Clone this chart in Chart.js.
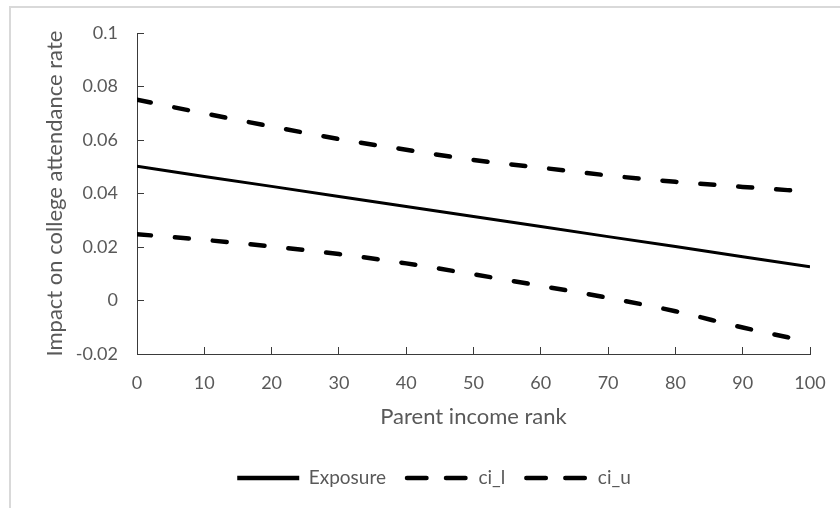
<!DOCTYPE html>
<html>
<head>
<meta charset="utf-8">
<script src="https://cdn.jsdelivr.net/npm/chart.js@4"></script>
<style>
html, body { margin: 0; padding: 0; background: #fff; overflow: hidden; }
#marco { position: absolute; left: 9px; top: 6px; width: 900px; height: 600px;
         border-top: 2px solid #d9d9d9; border-left: 2px solid #d9d9d9; }
#contenedor { position: absolute; left: 0; top: 0; width: 840px; height: 508px; }
</style>
</head>
<body>
<div id="marco"></div>
<div id="contenedor"><canvas id="grafico"></canvas></div>
<script>
// valores
const parentRank = [0, 10, 20, 30, 40, 50, 60, 70, 80, 90, 100];
const exposure = [0.0502, 0.0464, 0.0427, 0.0389, 0.0352, 0.0314, 0.0277, 0.0239, 0.0202, 0.0164, 0.0126];
const ciL = [0.0248, 0.0227, 0.0202, 0.0174, 0.0139, 0.0098, 0.0055, 0.0010, -0.0040, -0.0101, -0.0155];
const ciU = [0.0751, 0.0700, 0.0651, 0.0604, 0.0564, 0.0526, 0.0497, 0.0468, 0.0444, 0.0425, 0.0407];
const xTicks = [0, 10, 20, 30, 40, 50, 60, 70, 80, 90, 100];
const yTicks = [-0.02, 0, 0.02, 0.04, 0.06, 0.08, 0.1];

const gris = '#595959';
const ejeColor = '#3a3a3a';
const fuenteTicksX = { family: 'Lato', size: 18, lineHeight: 2.78 };
const fuenteTicksY = { family: 'Lato', size: 18, lineHeight: 0.8 };
const fuenteLeyenda = { family: 'Lato', size: 19 };
const fuenteTitulo = { family: 'Lato', size: 22 };

const puntos = serie => parentRank.map((x, i) => ({ x: x, y: serie[i] }));

new Chart(document.getElementById('grafico'), {
    type: 'line',
    data: {
        datasets: [{
            label: 'Exposure',
            data: puntos(exposure),
            borderColor: '#000',
            backgroundColor: '#000',
            borderWidth: 3,
            pointRadius: 0
        }, {
            label: 'ci_l',
            data: puntos(ciL),
            borderColor: '#000',
            backgroundColor: '#000',
            borderWidth: 4.5,
            borderDash: [14, 24],
            borderCapStyle: 'round',
            cubicInterpolationMode: 'monotone',
            pointRadius: 0
        }, {
            label: 'ci_u',
            data: puntos(ciU),
            borderColor: '#000',
            backgroundColor: '#000',
            borderWidth: 4.5,
            borderDash: [14, 24],
            borderCapStyle: 'round',
            cubicInterpolationMode: 'monotone',
            pointRadius: 0
        }]
    },
    options: {
        responsive: true,
        maintainAspectRatio: false,
        animation: false,
        layout: { padding: { left: 58, top: 29, right: 30, bottom: 10.5 } },
        plugins: {
            tooltip: { enabled: false },
            legend: {
                position: 'bottom',
                labels: {
                    color: gris,
                    font: fuenteLeyenda,
                    usePointStyle: true,
                    pointStyle: 'line',
                    pointStyleWidth: 62,
                    padding: 21,
                    generateLabels: chart => Chart.defaults.plugins.legend.labels.generateLabels(chart)
                        .map(l => {
                            const ds = chart.data.datasets[l.datasetIndex];
                            l.lineWidth = 4.5;
                            l.lineDash = ds.borderDash ? [19.5, 19.5] : [];
                            l.lineCap = ds.borderDash ? 'round' : 'butt';
                            return l;
                        })
                }
            }
        },
        scales: {
            x: {
                type: 'linear',
                min: 0,
                max: 100,
                afterBuildTicks: s => { s.ticks = xTicks.map(v => ({ value: v })); },
                afterFit: s => { s.height = 93.5; },
                ticks: { color: gris, font: fuenteTicksX, padding: 11, maxRotation: 0, autoSkip: false },
                grid: { drawOnChartArea: false, tickColor: ejeColor, tickLength: -7 },
                border: { color: ejeColor, width: 1 },
                title: { display: true, text: 'Parent income rank', color: gris, font: fuenteTitulo, padding: { top: 0, bottom: 17.3 } }
            },
            y: {
                min: -0.02,
                max: 0.1,
                afterBuildTicks: s => { s.ticks = yTicks.map(v => ({ value: v })); },
                afterFit: s => { s.width = 79; },
                ticks: {
                    color: gris, font: fuenteTicksY, padding: 26,
                    callback: v => String(Number(v.toFixed(2)))
                },
                grid: { drawOnChartArea: false, tickColor: ejeColor, tickLength: -7 },
                border: { color: ejeColor, width: 1 },
                title: { display: true, text: 'Impact on college attendance rate', color: gris, font: fuenteTitulo, padding: { top: -16, bottom: 0 } }
            }
        }
    }
});
</script>
</body>
</html>
